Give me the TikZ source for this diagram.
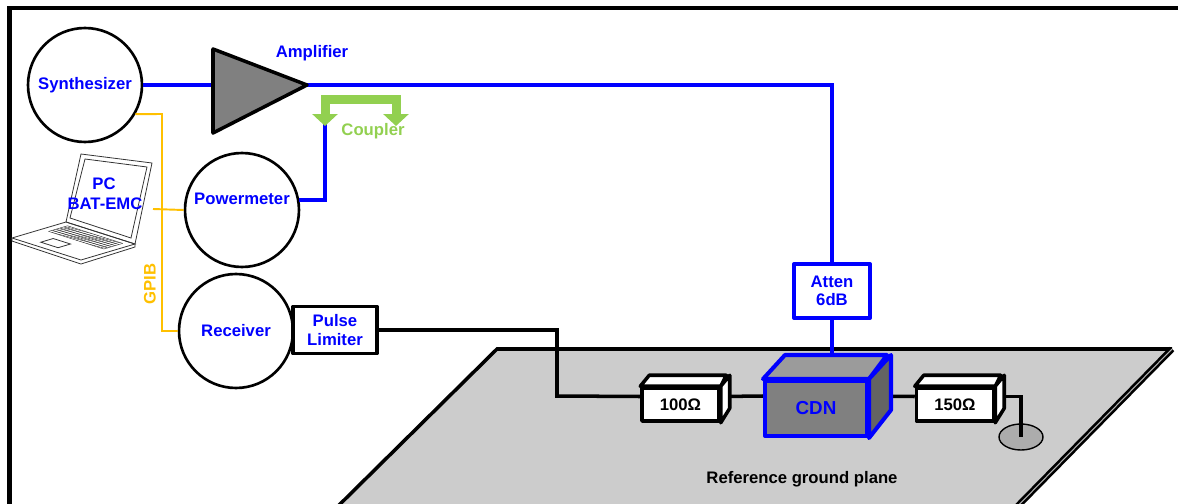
\documentclass[tikz,border=0pt]{standalone}
\usepackage{fontspec}
\setmainfont{Liberation Sans}
\usepackage{tikz}
\usetikzlibrary{arrows.meta}
\usetikzlibrary{positioning}
\usetikzlibrary{shapes.geometric}
\usetikzlibrary{backgrounds}
\definecolor{rfblue}{rgb}{0, 0, 1}
\definecolor{gpiborange}{RGB}{255, 192, 0}
\definecolor{cplgreen}{RGB}{146, 208, 80}
\definecolor{planegray}{RGB}{204, 204, 204}
\definecolor{cdntop}{RGB}{155, 155, 155}
\definecolor{cdnside}{RGB}{100, 100, 100}
\tikzset{lbl/.style = {font = \fontsize{9.5}{10.3}\selectfont\bfseries, align = center, inner sep = 0}}
\tikzset{instr/.style = {draw, circle, line width = 1.5pt, minimum size = 2.28cm, inner sep = 0, lbl, text = rfblue}}
\tikzset{rfline/.style = {rfblue, line width = 2.3pt}}
\tikzset{wire/.style = {black, line width = 2pt}}
\tikzset{gpib/.style = {gpiborange, line width = 1.1pt}}
\tikzset{box/.style = {draw, fill = white, line width = 2pt, line join = round, lbl}}
\tikzset{boxface/.style = {draw, fill = white, line width = 2pt, line join = round}}
\tikzset{laptop/.style = {draw = gray!40!black, line width = 0.45pt}}
\tikzset{cplarrow/.tip = {Triangle[length = 0.24cm, width = 0.5cm]}}

\begin{document}
\begin{tikzpicture}[x = 0.02cm, y = -0.02cm]

      \useasboundingbox (0, 0) rectangle (1178, 504);
      \clip (0, 0) rectangle (1178, 504);

      % ground plane
      \begin{pgfonlayer}{background}
        \fill [planegray] (497, 349) -- (1172, 349) -- (1004, 520) -- (324, 520) -- cycle;
        \draw [line width = 2pt] (324, 520) -- (497, 349) -- (1172, 349);
        \draw [line width = 1.5pt, double = gray!60, double distance = 0.6pt] (1172, 349) -- (1004, 520);
        \node [ellipse, draw, line width = 0.8pt, fill = gray!65, minimum width = 0.88cm, minimum height = 0.52cm] (gnd) at (1021, 437) {};
      \end{pgfonlayer}

      \draw [line width = 2.4pt] (9.5, 520) -- (9.5, 8) -- (1190, 8);

      % laptop
      \draw [laptop] (81, 154) -- (152, 163) -- (135, 244) -- (66, 222) -- cycle;
      \draw [laptop] (85, 159) -- (147, 167) -- (131, 238) -- (70, 218) -- cycle;
      \draw [laptop] (12, 238) -- (12, 241) -- (81, 264) -- (135, 247) -- (135, 244);
      \begin{scope}[shift = {(66, 222)}, x = {(1.38cm, -0.44cm)}, y = {(-1.08cm, -0.32cm)}]
        \draw [laptop] (0, 0) -- (1, 0) -- (1, 1) -- (0, 1) -- cycle;
        \foreach \v in {0.1, 0.17, ..., 0.45}
          \draw [laptop, line width = 0.25pt] (0.1, \v) -- (0.9, \v);
        \foreach \u in {0.1, 0.15, ..., 0.9}
          \draw [laptop, line width = 0.25pt] (\u, 0.1) -- (\u, 0.45);
        \draw [laptop] (0.3, 0.62) -- (0.55, 0.62) -- (0.55, 0.85) -- (0.3, 0.85) -- cycle;
      \end{scope}
      \node [lbl, text = rfblue] (pc) at (104, 184) {PC};
      \node [lbl, text = rfblue] (batemc) at (105, 204) {BAT-EMC};
      \coordinate (pcport) at (153, 209);

      % instruments
      \node [instr] (synth) at (85, 85) {Synthesizer};
      \node [instr] (pm) at (242, 210) {};
      \node [lbl, text = rfblue] (pmtext) at (242, 199) {Powermeter};
      \node [instr] (recv) at (236, 331) {Receiver};

      % GPIB bus
      \coordinate (bus) at (162, 114);
      \draw [gpib] (synth.-30) -- (bus) |- (recv.west);
      \draw [gpib] (pcport) -- (pm.west);
      \node [lbl, text = gpiborange, rotate = 90] (gpiblbl) at (150, 284) {GPIB};

      % amplifier and rf path
      \coordinate (amp) at (307, 85);
      \node [box, draw = rfblue, text = rfblue, line width = 2.3pt, minimum width = 1.52cm, minimum height = 1.08cm] (atten) at (832, 291) {Atten\\6dB};
      \draw [rfline] (synth.east) -- (amp);
      \draw [rfline] (amp) -| (atten.north);
      \filldraw [fill = gray, draw = black, line width = 2pt, line join = round] (213, 49) -- (amp) -- (213, 133) -- cycle;
      \node [lbl, text = rfblue] (amplbl) at (312, 53) {Amplifier};

      % coupler
      \coordinate (cpla) at (325, 126);
      \coordinate (cplb) at (396, 126);
      \draw [rfline] (pm.10) -| ([yshift = 0.1cm]cpla);
      \draw [cplgreen, line width = 0.18cm, cplarrow-cplarrow] (cpla) -- ++(0, -27) -| (cplb);
      \node [lbl, text = cplgreen] (cpltext) at (373, 131) {Coupler};

      \node [box, minimum width = 1.68cm, minimum height = 0.94cm, text = rfblue] (plim) at (335, 330) {Pulse\\Limiter};

      % CDN
      \node [box, fill = gray, draw = rfblue, text = rfblue, line width = 2.3pt, font = \fontsize{10.7}{12}\selectfont\bfseries, minimum width = 2.04cm, minimum height = 1.1cm] (cdn) at (816, 408.5) {CDN};
      \filldraw [boxface, fill = cdntop, draw = rfblue, line width = 2.3pt] (cdn.north west) -- ++(22, -24) -- ++(102, 0) coordinate (cdnback) -- (cdn.north east) -- cycle;
      \filldraw [boxface, fill = cdnside, draw = rfblue, line width = 2.3pt] (cdn.north east) -- ++(22, -24) -- ++(0, 55) -- (cdn.south east) -- cycle;
      \draw [rfline] (atten.south) -- (atten.south |- cdnback);

      % resistors
      \foreach \name/\px/\val in {rlo/680.5/100Ω, rhi/955/150Ω} {
        \node [box, minimum width = 1.54cm, minimum height = 0.66cm] (\name) at (\px, 404.5) {\val};
        \filldraw [boxface] (\name.north west) -- ++(9, -11) -- ++(77, 0) -- (\name.north east) -- cycle;
        \filldraw [boxface] (\name.north east) -- ++(9, -11) -- ++(0, 33) -- (\name.south east) -- cycle;
      }

      \begin{pgfonlayer}{background}
        \coordinate (jog) at (557, 396);
        \draw [wire] (plim.east) -| (jog) -- ([yshift = 0.16cm]rlo.west);
        \draw [wire] ([yshift = 0.16cm]rlo.east) -- ([yshift = 0.25cm]cdn.west);
        \draw [wire] ([yshift = 0.25cm]cdn.east) -- ([yshift = 0.16cm]rhi.west);
        \draw [wire] ([yshift = 0.16cm]rhi.east) -| (gnd.center);
      \end{pgfonlayer}

      \node [lbl] (gndlbl) at (802, 479) {Reference ground plane};

    \end{tikzpicture}
\end{document}
